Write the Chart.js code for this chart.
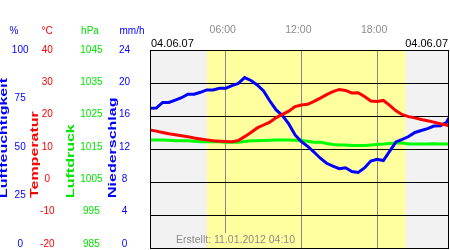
<!DOCTYPE html>
<html>
<head>
<meta charset="utf-8">
<script src="https://cdn.jsdelivr.net/npm/chart.js@4/dist/chart.umd.min.js"></script>
<style>
  html, body { margin: 0; padding: 0; background: #fff; }
  canvas { display: block; }
</style>
</head>
<body>
<canvas id="weather-chart" width="450" height="250"></canvas>
<script>
// Wetterdaten 04.06.07, halbstuendlich
const hours = [0, 0.5, 1, 1.5, 2, 2.5, 3, 3.5, 4, 4.5, 5, 5.5, 6, 6.5, 7, 7.5,
               8, 8.5, 9, 9.5, 10, 10.5, 11, 11.5, 12, 12.5, 13, 13.5, 14, 14.5, 15, 15.5,
               16, 16.5, 17, 17.5, 18, 18.5, 19, 19.5, 20, 20.5, 21, 21.5, 22, 22.5, 23, 23.5, 23.67];

const humidity = [70.0, 70.1, 73.0, 73.0, 74.2, 75.4, 77.2, 77.2, 78.2, 79.4, 79.4, 80.3, 80.3, 81.6, 82.8, 85.8,
                  84.3, 82.0, 78.9, 73.7, 69.1, 66.2, 61.9, 56.2, 52.8, 50.3, 47.4, 44.2, 41.6, 40.1, 38.8, 39.3,
                  37.4, 36.9, 39.2, 42.8, 43.7, 43.0, 47.9, 52.6, 53.9, 55.4, 57.5, 58.5, 59.5, 60.8, 61.0, 62.6, 64.8];

const temperature = [15.3, 14.9, 14.5, 14.1, 13.8, 13.5, 13.2, 12.8, 12.5, 12.2, 11.9, 11.8, 11.7, 11.6, 12.0, 13.2,
                     14.5, 15.9, 16.8, 17.7, 19.1, 20.1, 21.1, 22.5, 23.0, 23.2, 24.1, 25.1, 26.2, 27.1, 27.8, 27.5,
                     26.7, 26.8, 25.6, 24.2, 24.1, 24.4, 22.9, 21.2, 20.0, 19.4, 19.0, 18.5, 18.1, 17.7, 17.2, 16.8, 16.5];

const pressure = [1017.2, 1017.2, 1017.2, 1017.1, 1016.9, 1016.9, 1016.9, 1016.8, 1016.6, 1016.6, 1016.6, 1016.6,
                  1016.5, 1016.5, 1016.5, 1016.7, 1016.9, 1016.9, 1017.0, 1017.1, 1017.2, 1017.2, 1017.2, 1017.1,
                  1017.0, 1016.8, 1016.5, 1016.5, 1016.1, 1015.8, 1015.6, 1015.6, 1015.5, 1015.5, 1015.5, 1015.6,
                  1015.8, 1015.9, 1016.1, 1016.2, 1016.2, 1015.9, 1015.9, 1015.9, 1015.9, 1016.0, 1015.9, 1015.9, 1015.9];

// tick labels of the left axes and the time axis
const humidityTicks = [100, 75, 50, 25, 0];
const temperatureTicks = [40, 30, 20, 10, 0, -10, -20];
const pressureTicks = [1045, 1035, 1025, 1015, 1005, 995, 985];
const rainTicks = [24, 20, 16, 12, 8, 4, 0];
const timeTicks = [6, 12, 18];

// daylight (sunrise / sunset in hours)
const dayStart = 4.5;
const dayEnd = 20.25;

const dateLabel = '04.06.07';
const createdLabel = 'Erstellt: 11.01.2012 04:10';

const FONT = "'Liberation Sans', Arial, sans-serif";
const BLUE = '#0000ff';
const RED = '#ff0000';
const GREEN = '#00ff00';
const GREEN_TEXT = '#00e600';
const NIGHT = '#f2f2f2';
const DAY = '#ffffa0';

function leftAxis(order, min, max, ticks, color, width, pad) {
    return {
        type: 'linear',
        position: 'left',
        weight: order,
        min: min,
        max: max,
        afterBuildTicks: (scale) => { scale.ticks = ticks.map(v => ({ value: v })); },
        afterFit: (scale) => {
            scale.width = width;
            scale.paddingTop = 0;
            scale.paddingBottom = 0;
        },
        grid: { display: false, drawTicks: false },
        border: { display: false },
        ticks: {
            autoSkip: false,
            color: color,
            crossAlign: 'center',
            padding: pad,
            font: { family: FONT, size: 10 },
            callback: (v) => String(v)
        }
    };
}

const decor = {
    id: 'decor',
    beforeDraw(chart) {
        const { ctx, chartArea: a, scales: { x } } = chart;
        ctx.save();
        ctx.fillStyle = NIGHT;
        ctx.fillRect(a.left, a.top, a.right - a.left, a.bottom - a.top);
        const x0 = x.getPixelForValue(dayStart);
        const x1 = x.getPixelForValue(dayEnd);
        ctx.fillStyle = DAY;
        ctx.fillRect(x0, a.top, x1 - x0, a.bottom - a.top);
        ctx.restore();
    },
    afterDraw(chart) {
        const { ctx, chartArea: a, scales: { x } } = chart;
        ctx.save();

        // unit headers
        ctx.font = '10px ' + FONT;
        ctx.textAlign = 'center';
        ctx.textBaseline = 'middle';
        [['%', 14, BLUE], ['°C', 47, RED], ['hPa', 90, GREEN_TEXT], ['mm/h', 132, BLUE]].forEach(([t, cx, c]) => {
            ctx.fillStyle = c;
            ctx.fillText(t, cx, 31);
        });

        // rotated axis titles (stretched along the text like the original)
        ctx.font = 'bold 10px ' + FONT;
        ctx.textAlign = 'left';
        [['Luftfeuchtigkeit', 4.5, BLUE], ['Temperatur', 35.5, RED],
         ['Luftdruck', 71.5, GREEN_TEXT], ['Niederschlag', 113, BLUE]].forEach(([t, cx, c]) => {
            ctx.save();
            ctx.translate(cx, 198);
            ctx.rotate(-Math.PI / 2);
            ctx.scale(1.6, 1);
            ctx.fillStyle = c;
            ctx.fillText(t, 0, 0);
            ctx.restore();
        });

        // dates above the plot
        ctx.font = '11px ' + FONT;
        ctx.fillStyle = '#000';
        ctx.textBaseline = 'middle';
        ctx.textAlign = 'left';
        ctx.fillText(dateLabel, a.left + 1, 44);
        ctx.textAlign = 'right';
        ctx.fillText(dateLabel, a.right - 1, 44);

        // created stamp, with background behind it
        ctx.font = '10.5px ' + FONT;
        const w = ctx.measureText(createdLabel).width;
        const tx = 295, ty = 240.5;
        const bx = tx - w - 1, by = 233, bw = w + 2, bh = 15;
        const x0 = x.getPixelForValue(dayStart);
        ctx.fillStyle = NIGHT;
        ctx.fillRect(bx, by, bw, bh);
        ctx.fillStyle = DAY;
        ctx.fillRect(Math.max(bx, x0), by, bx + bw - Math.max(bx, x0), bh);
        ctx.fillStyle = '#8c8c8c';
        ctx.textAlign = 'right';
        ctx.fillText(createdLabel, tx, ty);

        // plot frame
        ctx.strokeStyle = '#000';
        ctx.lineWidth = 1;
        ctx.strokeRect(a.left + 0.5, a.top + 0.5, a.right - a.left - 1, a.bottom - a.top - 1);
        ctx.restore();
    }
};

const data = {
    labels: hours,
    datasets: [{
        label: 'Temperatur',
        data: temperature,
        yAxisID: 'yT',
        borderColor: RED,
        borderWidth: 3
    }, {
        label: 'Luftfeuchtigkeit',
        data: humidity,
        yAxisID: 'yH',
        borderColor: BLUE,
        borderWidth: 3
    }, {
        label: 'Luftdruck',
        data: pressure,
        yAxisID: 'yP',
        borderColor: GREEN,
        borderWidth: 3
    }]
};

// value range per axis: top tick at chart top, bottom tick 5px above the frame
const config = {
    type: 'line',
    data: data,
    options: {
        responsive: false,
        devicePixelRatio: 1,
        animation: false,
        layout: { padding: { top: 0, left: 0, right: 1, bottom: 1 } },
        elements: {
            point: { radius: 0 },
            line: { tension: 0, borderJoinStyle: 'miter' }
        },
        plugins: {
            legend: { display: false },
            title: { display: false },
            tooltip: { enabled: false }
        },
        scales: {
            x: {
                type: 'linear',
                position: 'top',
                min: 0,
                max: 23.7,
                afterBuildTicks: (scale) => { scale.ticks = timeTicks.map(v => ({ value: v })); },
                afterFit: (scale) => {
                    scale.height = 50;
                    scale.paddingLeft = 0;
                    scale.paddingRight = 0;
                },
                grid: { color: '#888888', lineWidth: 1, drawTicks: false },
                border: { display: false },
                ticks: {
                    autoSkip: false,
                    maxRotation: 0,
                    color: '#8c8c8c',
                    padding: 14,
                    labelOffset: -3,
                    font: { family: FONT, size: 10.5 },
                    callback: (v) => (v < 10 ? '0' : '') + v + ':00'
                }
            },
            g: {
                type: 'linear',
                position: 'right',
                min: 0,
                max: 6,
                afterBuildTicks: (scale) => { scale.ticks = [1, 2, 3, 4, 5].map(v => ({ value: v })); },
                afterFit: (scale) => {
                    scale.width = 0;
                    scale.paddingTop = 0;
                    scale.paddingBottom = 0;
                },
                grid: { color: '#000000', lineWidth: 1, drawTicks: false },
                border: { display: false },
                ticks: { display: false }
            },
            yH: leftAxis(4, -2.58, 100, humidityTicks, BLUE, 30, 1.5),
            yT: leftAxis(3, -21.55, 40, temperatureTicks, RED, 30, 5.5),
            yP: leftAxis(2, 983.45, 1045, pressureTicks, GREEN_TEXT, 45, 2.5),
            yN: leftAxis(1, -0.62, 24, rainTicks, BLUE, 45, 20)
        }
    },
    plugins: [decor]
};

window.weatherChart = new Chart(document.getElementById('weather-chart'), config);
</script>
</body>
</html>
